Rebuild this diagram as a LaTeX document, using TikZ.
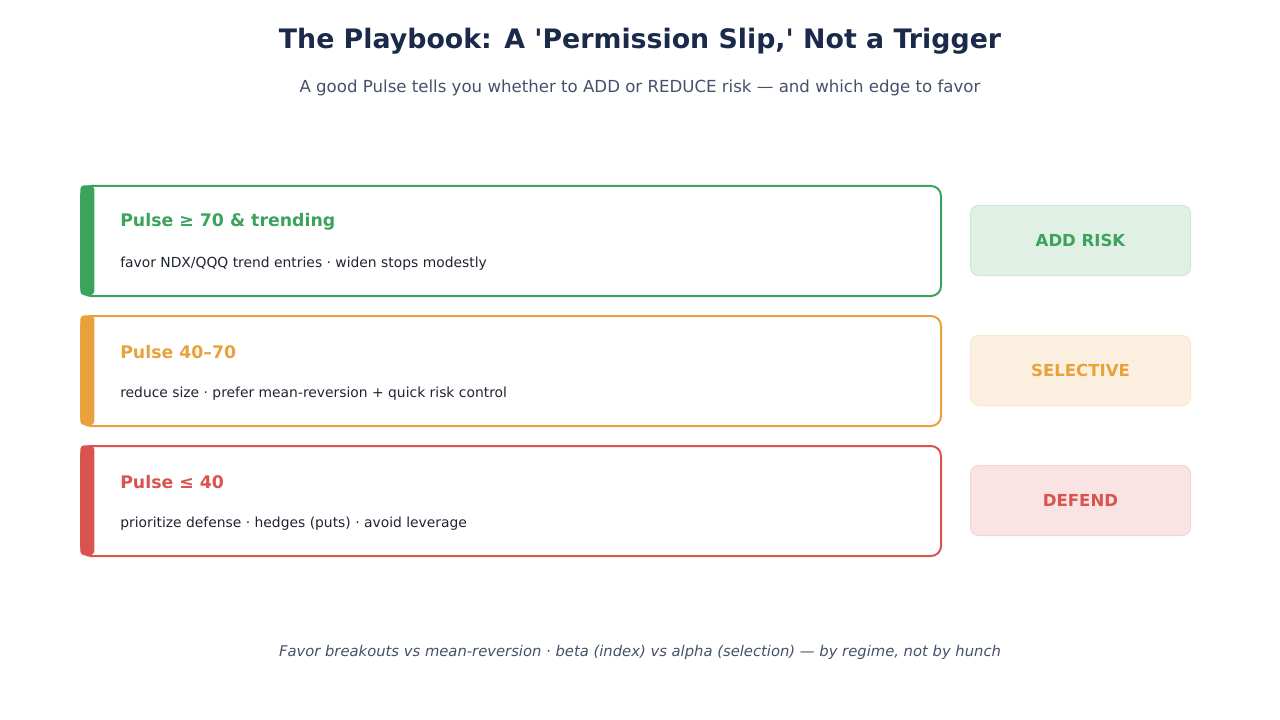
\documentclass[tikz,border=0pt]{standalone}
\usepackage{fontspec}
\setmainfont{DejaVu Sans}
\definecolor{titlec}{HTML}{1B2A4A}
\definecolor{subc}{HTML}{45506A}
\definecolor{bodyc}{HTML}{1E2430}
\definecolor{gr}{HTML}{3BA35C}
\definecolor{orc}{HTML}{E9A23B}
\definecolor{rdc}{HTML}{D9534F}
\begin{document}
\begin{tikzpicture}[x=0.75pt,y=-0.75pt,
  rowbox/.style={draw=#1, line width=1.5pt, rounded corners=7.5pt, minimum width=645pt, minimum height=82.5pt, anchor=north west, inner sep=0pt},
  accent/.style={fill=#1, rounded corners=3pt, minimum width=10.5pt, minimum height=82.5pt, anchor=north west, inner sep=0pt},
  head/.style={text=#1, font=\fontsize{13}{15}\selectfont\bfseries, anchor=west, inner sep=0pt},
  body/.style={text=bodyc, font=\fontsize{10.4}{12}\selectfont, anchor=west, inner sep=0pt},
  tag/.style={draw=#1!25, fill=#1!16, line width=0.75pt, rounded corners=6pt, minimum width=165pt, minimum height=52.5pt, anchor=north west, text=#1, font=\fontsize{12.4}{14}\selectfont\bfseries, inner sep=0pt}
]
\useasboundingbox (0,0) rectangle (1280,720);
\node[text=titlec, font=\fontsize{20.1}{24}\selectfont\bfseries] (title) at (640,41) {The Playbook: A \textquotesingle Permission Slip,\textquotesingle{} Not a Trigger};
\node[text=subc, font=\fontsize{12.45}{14}\selectfont] (sub) at (640,88) {A good Pulse tells you whether to ADD or REDUCE risk — and which edge to favor};

% row 1
\node[rowbox=gr] (b1) at (80,185) {};
\node[accent=gr] (a1) at (80,185) {};
\node[head=gr] (h1) at (120,222) {Pulse ≥ 70 \& trending};
\node[body] (t1) at (120,264) {favor NDX/QQQ trend entries · widen stops modestly};
\node[tag=gr] (g1) at (970,205) {ADD RISK};

% row 2
\node[rowbox=orc] (b2) at (80,315) {};
\node[accent=orc] (a2) at (80,315) {};
\node[head=orc] (h2) at (120,352) {Pulse 40–70};
\node[body] (t2) at (120,394) {reduce size · prefer mean-reversion + quick risk control};
\node[tag=orc] (g2) at (970,335) {SELECTIVE};

% row 3
\node[rowbox=rdc] (b3) at (80,445) {};
\node[accent=rdc] (a3) at (80,445) {};
\node[head=rdc] (h3) at (120,482) {Pulse ≤ 40};
\node[body] (t3) at (120,524) {prioritize defense · hedges (puts) · avoid leverage};
\node[tag=rdc] (g3) at (970,465) {DEFEND};

\node[text=subc, font=\fontsize{11.08}{13}\selectfont\itshape] (foot) at (640,652) {Favor breakouts vs mean-reversion · beta (index) vs alpha (selection) — by regime, not by hunch};
\end{tikzpicture}
\end{document}
